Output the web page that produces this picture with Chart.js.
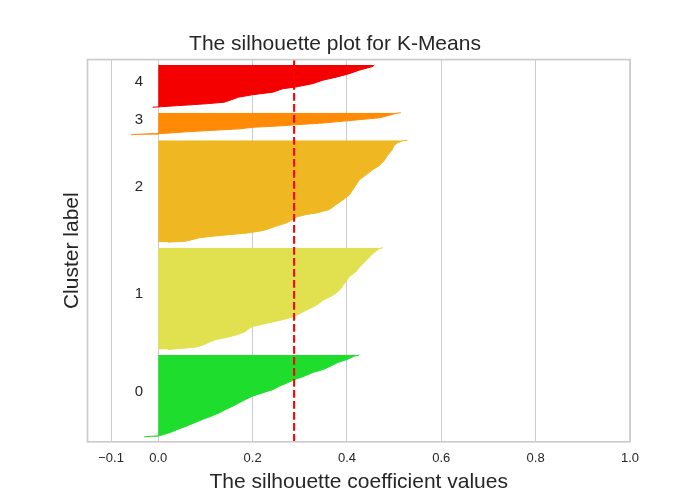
<!DOCTYPE html>
<html>
<head>
<meta charset="utf-8">
<script src="https://cdn.jsdelivr.net/npm/chart.js@4.4.1/dist/chart.umd.min.js"></script>
<style>
  html, body { margin: 0; padding: 0; background: #fff; }
  canvas { display: block; }
</style>
</head>
<body>
<canvas id="silhouette" width="700" height="496"></canvas>
<script>
// silhouette values, per cluster: [rank inside cluster (sorted), value]
const clusterLabels = ['0', '1', '2', '3', '4'];
const clusterSizes = [164, 204, 204, 45, 85];

const sil0 = [[0,-0.030],[1,-0.015],[2,0.002],[8,0.024],[15,0.042],[21,0.059],[28,0.077],[35,0.095],
  [41,0.112],[48,0.130],[55,0.144],[61,0.158],[68,0.172],[75,0.186],[81,0.200],[88,0.222],[94,0.243],
  [101,0.257],[108,0.275],[114,0.289],[121,0.310],[128,0.327],[134,0.349],[141,0.366],[148,0.380],
  [154,0.400],[161,0.416],[163,0.426]];
const sil1 = [[0,0.020],[2,0.045],[3,0.059],[5,0.081],[9,0.095],[15,0.109],[20,0.123],[24,0.144],
  [29,0.165],[35,0.183],[42,0.193],[46,0.200],[52,0.229],[58,0.257],[64,0.282],[68,0.292],[78,0.313],
  [88,0.335],[98,0.349],[108,0.370],[118,0.384],[131,0.394],[145,0.405],[155,0.419],[164,0.426],
  [174,0.437],[184,0.447],[194,0.458],[201,0.469],[203,0.476]];
const sil2 = [[0,0.020],[2,0.059],[9,0.088],[12,0.116],[15,0.151],[18,0.186],[22,0.215],[25,0.229],
  [32,0.250],[38,0.271],[45,0.285],[50,0.292],[55,0.313],[58,0.335],[65,0.363],[75,0.377],[84,0.391],
  [94,0.405],[104,0.412],[114,0.419],[124,0.426],[134,0.440],[144,0.454],[153,0.469],[163,0.479],
  [173,0.486],[183,0.495],[193,0.500],[198,0.507],[202,0.518],[203,0.528]];
const sil3 = [[0,-0.058],[1,-0.045],[2,-0.020],[3,0.015],[6,0.059],[9,0.116],[12,0.172],[15,0.200],
  [18,0.262],[20,0.289],[23,0.342],[28,0.400],[34,0.469],[39,0.490],[43,0.504],[44,0.514]];
const sil4 = [[0,-0.012],[1,0.005],[3,0.038],[7,0.102],[10,0.140],[20,0.170],[25,0.200],[30,0.243],
  [37,0.264],[40,0.289],[47,0.327],[54,0.349],[60,0.377],[67,0.405],[74,0.426],[81,0.454],[84,0.458]];
const silValues = [sil0, sil1, sil2, sil3, sil4];

const silhouetteAvg = 0.288;
const xTickValues = [-0.1, 0, 0.2, 0.4, 0.6, 0.8, 1.0];
const xTickLabels = ['\u22120.1', '0.0', '0.2', '0.4', '0.6', '0.8', '1.0'];

const clusterColors = ['#1fdd2d', '#e1e04f', '#efb822', '#ff8a05', '#f50000'];
const textColor = '#262626';
const gridColor = '#cccccc';
const gap = 10;

// stack clusters bottom to top with a gap of 10 between them
const datasets = [];
const labelPos = [];
let yLower = gap;
for (let k = 0; k < clusterSizes.length; k++) {
  const base = yLower;
  datasets.push({
    data: silValues[k].map(p => ({ x: p[1], y: base + p[0] })),
    borderColor: clusterColors[k],
    backgroundColor: clusterColors[k],
    borderWidth: 1,
    pointRadius: 0,
    tension: 0,
    fill: 'origin',
    order: 2
  });
  labelPos.push(base + clusterSizes[k] / 2);
  yLower = base + clusterSizes[k] + gap;
}
const yMax = yLower;

datasets.push({
  data: [{ x: silhouetteAvg, y: 0 }, { x: silhouetteAvg, y: yMax }],
  borderColor: '#ff0000',
  borderWidth: 2.1,
  borderDash: [7.7, 3.3],
  pointRadius: 0,
  fill: false,
  order: 0
});

const extras = {
  id: 'extras',
  afterDatasetsDraw(chart) {
    const { ctx, chartArea: a, scales } = chart;
    ctx.save();
    ctx.strokeStyle = gridColor;
    ctx.lineWidth = 1.7;
    ctx.strokeRect(a.left, a.top, a.right - a.left, a.bottom - a.top);
    ctx.fillStyle = textColor;
    ctx.font = "15px 'Liberation Sans', Arial, sans-serif";
    ctx.textAlign = 'left';
    ctx.textBaseline = 'alphabetic';
    for (let k = 0; k < clusterLabels.length; k++) {
      ctx.fillText(clusterLabels[k], scales.x.getPixelForValue(-0.05), scales.y.getPixelForValue(labelPos[k]));
    }
    ctx.restore();
  }
};

Chart.defaults.font.family = "'Liberation Sans', Arial, sans-serif";
Chart.defaults.color = textColor;

new Chart(document.getElementById('silhouette'), {
  type: 'line',
  data: { datasets: datasets },
  plugins: [extras],
  options: {
    indexAxis: 'y',
    responsive: false,
    animation: false,
    devicePixelRatio: 1,
    layout: { padding: { left: 40, right: 70, top: 0, bottom: 0 } },
    plugins: {
      legend: { display: false },
      tooltip: { enabled: false },
      title: {
        display: true,
        text: 'The silhouette plot for K-Means',
        color: textColor,
        font: { size: 21, weight: 'normal' },
        padding: { top: 32, bottom: 2.4 }
      }
    },
    scales: {
      x: {
        type: 'linear',
        min: -0.15,
        max: 1,
        afterBuildTicks(scale) { scale.ticks = xTickValues.map(v => ({ value: v })); },
        ticks: {
          color: textColor,
          font: { size: 13 },
          padding: 8.8,
          maxRotation: 0,
          autoSkip: false,
          callback: (v, i) => xTickLabels[i]
        },
        grid: { color: gridColor, lineWidth: 1, drawTicks: false },
        border: { display: false },
        title: {
          display: true,
          text: 'The silhouette coefficient values',
          color: textColor,
          font: { size: 21 },
          padding: { top: -5.1, bottom: 0.9 }
        }
      },
      y: {
        type: 'linear',
        min: 0,
        max: yMax,
        ticks: { display: false },
        grid: { display: false, drawTicks: false },
        border: { display: false },
        title: {
          display: true,
          text: 'Cluster label',
          color: textColor,
          font: { size: 21 },
          padding: { top: 19.4, bottom: 2.9 }
        }
      }
    }
  }
});
</script>
</body>
</html>
